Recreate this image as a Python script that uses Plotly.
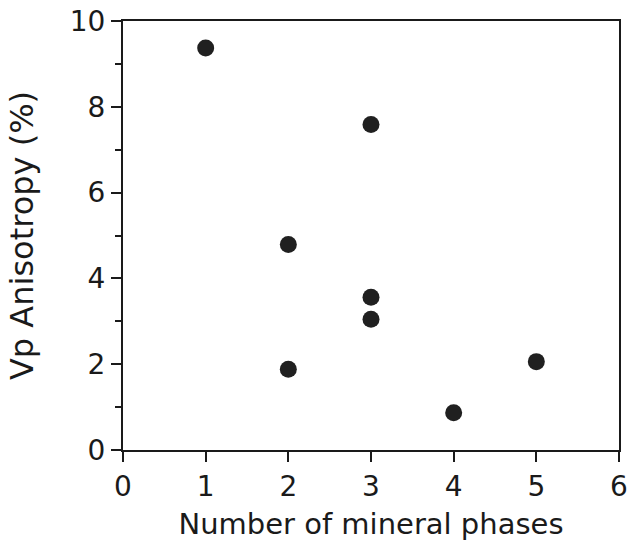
import plotly.graph_objects as go

phases = [1, 3, 2, 3, 3, 2, 5, 4]
anisotropy = [9.37, 7.59, 4.79, 3.56, 3.05, 1.88, 2.06, 0.87]

x_ticks = [0, 1, 2, 3, 4, 5, 6]
y_ticks = [0, 2, 4, 6, 8, 10]

FONT = "DejaVu Sans"
INK = "#1a1a1a"

fig = go.Figure()
fig.add_trace(go.Scatter(
    x=phases, y=anisotropy, mode="markers",
    marker=dict(size=17, color="#202020", line=dict(width=0)),
    showlegend=False, cliponaxis=False,
))

fig.update_layout(
    width=631, height=544,
    margin=dict(l=123, r=12, t=21, b=94, autoexpand=False),
    paper_bgcolor="white", plot_bgcolor="white",
    font=dict(family=FONT, color=INK),
    xaxis=dict(
        range=[0, 6], tickvals=x_ticks, ticktext=[str(v) for v in x_ticks],
        showgrid=False, zeroline=False, automargin=False,
        showline=True, linecolor=INK, linewidth=2, mirror=True,
        ticks="outside", ticklen=10, tickwidth=2, tickcolor=INK,
        tickfont=dict(size=28, family=FONT, color=INK),
        title=dict(text="Number of mineral phases", font=dict(size=29, family=FONT, color=INK), standoff=12),
    ),
    yaxis=dict(
        range=[0, 10], tickvals=y_ticks, ticktext=[str(v) for v in y_ticks],
        showgrid=False, zeroline=False, automargin=False,
        showline=True, linecolor=INK, linewidth=2, mirror=True,
        ticks="outside", ticklen=10, tickwidth=2, tickcolor=INK,
        tickfont=dict(size=28, family=FONT, color=INK),
        minor=dict(dtick=1, tick0=0, ticks="outside", ticklen=6, tickwidth=2, tickcolor=INK, showgrid=False),
        title=dict(text="Vp Anisotropy (%)", font=dict(size=32, family=FONT, color=INK), standoff=27),
    ),
)

fig.write_html("out.html", config={"displayModeBar": False},
               post_script="document.body.style.margin='0px';")
